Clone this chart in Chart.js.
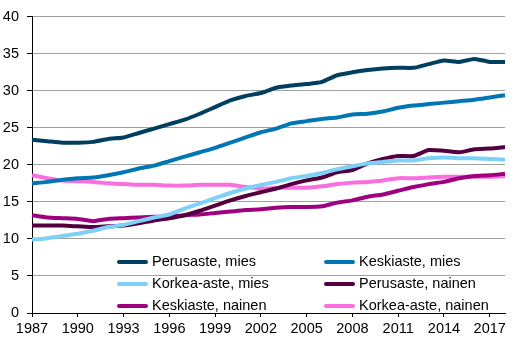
<!DOCTYPE html>
<html>
<head>
<meta charset="utf-8">
<script src="https://cdn.jsdelivr.net/npm/chart.js@4/dist/chart.umd.min.js"></script>
<style>
  html, body { margin: 0; padding: 0; background: #fff; }
  #wrap { width: 530px; height: 341px; position: relative; }
</style>
</head>
<body>
<div id="wrap"><canvas id="chart"></canvas></div>
<script>
// Datos
const years = [
  "1987","1988","1989","1990","1991","1992","1993","1994","1995","1996","1997",
  "1998","1999","2000","2001","2002","2003","2004","2005","2006","2007","2008",
  "2009","2010","2011","2012","2013","2014","2015","2016","2017","2018"
];
const shownYears = ["1987","1990","1993","1996","1999","2002","2005","2008","2011","2014","2017"];
const yTicks = [0, 5, 10, 15, 20, 25, 30, 35, 40];

const seriesNames = [
  "Perusaste, mies", "Keskiaste, mies", "Korkea-aste, mies",
  "Perusaste, nainen", "Keskiaste, nainen", "Korkea-aste, nainen"
];

const perusMies = [23.4,23.2,23.0,23.0,23.1,23.5,23.7,24.3,24.9,25.5,26.1,26.9,27.8,28.7,29.3,29.7,
                   30.4,30.7,30.9,31.2,32.1,32.5,32.8,33.0,33.1,33.1,33.6,34.1,33.9,34.3,33.9,33.9];
const keskiMies = [17.5,17.7,18.0,18.2,18.3,18.6,19.0,19.5,19.9,20.5,21.1,21.7,22.3,23.0,23.7,24.4,
                   24.9,25.6,25.9,26.2,26.4,26.8,26.9,27.2,27.7,28.0,28.2,28.4,28.6,28.8,29.1,29.4];
const korkeaMies = [9.9,10.1,10.4,10.7,11.1,11.6,11.9,12.4,12.9,13.3,14.1,14.8,15.5,16.2,16.8,17.3,
                    17.7,18.2,18.5,18.9,19.4,19.8,20.2,20.4,20.6,20.6,20.9,21.0,20.9,20.9,20.8,20.7];
const perusNainen = [11.8,11.8,11.8,11.7,11.6,11.7,11.8,12.1,12.5,12.8,13.2,13.8,14.5,15.2,15.8,16.3,
                     16.8,17.4,17.9,18.3,19.0,19.3,20.2,20.8,21.2,21.2,22.0,21.9,21.7,22.1,22.2,22.4];
const keskiNainen = [13.2,12.9,12.8,12.7,12.4,12.7,12.8,12.9,13.0,13.0,13.2,13.3,13.5,13.7,13.9,14.0,
                     14.2,14.3,14.3,14.4,14.9,15.2,15.7,16.0,16.5,17.0,17.4,17.7,18.2,18.5,18.6,18.8];
const korkeaNainen = [18.6,18.2,17.9,17.8,17.7,17.5,17.4,17.3,17.3,17.2,17.2,17.3,17.3,17.3,17.0,16.8,
                      16.9,16.9,16.9,17.1,17.4,17.6,17.7,17.9,18.2,18.2,18.3,18.4,18.4,18.4,18.4,18.5];

const colors = ["#003f5f", "#0077b3", "#7dd0f7", "#520040", "#9e007e", "#fa6ee0"];
const values = [perusMies, keskiMies, korkeaMies, perusNainen, keskiNainen, korkeaNainen];

const FONT = '"Liberation Sans", Arial, sans-serif';
const FONT_SIZE = 14.5;

// Leyenda dentro del área del gráfico (2 columnas)
const insideLegend = {
  id: "insideLegend",
  afterDraw(chart) {
    const ctx = chart.ctx;
    const cols = [118, 325];
    const rows = [262, 284, 306];
    ctx.save();
    ctx.font = FONT_SIZE + "px " + FONT;
    ctx.textBaseline = "middle";
    ctx.fillStyle = "#000";
    ctx.lineCap = "round";
    chart.data.datasets.forEach((ds, i) => {
      const x = cols[i % 2];
      const y = rows[Math.floor(i / 2)];
      ctx.strokeStyle = ds.borderColor;
      ctx.lineWidth = 4;
      ctx.beginPath();
      ctx.moveTo(x + 1, y);
      ctx.lineTo(x + 28, y);
      ctx.stroke();
      ctx.fillText(ds.label, x + 34, y);
    });
    ctx.restore();
  }
};

new Chart(document.getElementById("chart"), {
  type: "line",
  data: {
    labels: years,
    datasets: seriesNames.map((name, i) => ({
      label: name,
      data: values[i],
      borderColor: colors[i],
      backgroundColor: colors[i],
      borderWidth: 4,
      pointRadius: 0,
      tension: 0.2,
      fill: false
    }))
  },
  options: {
    responsive: true,
    maintainAspectRatio: false,
    animation: false,
    layout: { padding: { top: 9, right: 25, left: 0, bottom: 0 } },
    plugins: {
      legend: { display: false },
      tooltip: { enabled: false }
    },
    scales: {
      x: {
        offset: false,
        afterFit: (s) => { s.height = 28; },
        border: { color: "#000", width: 1 },
        grid: {
          drawOnChartArea: false,
          drawTicks: true,
          tickLength: 4,
          tickColor: "#000"
        },
        ticks: {
          autoSkip: false,
          maxRotation: 0,
          padding: 3,
          color: "#000",
          font: { family: FONT, size: FONT_SIZE },
          callback: function (v) {
            const lab = this.getLabelForValue(v);
            return shownYears.includes(lab) ? lab : null;
          }
        }
      },
      y: {
        min: yTicks[0],
        max: yTicks[yTicks.length - 1],
        afterFit: (s) => { s.width = 32; },
        border: { color: "#000", width: 1 },
        grid: {
          color: (c) => c.tick && c.tick.value === 0 ? "rgba(0,0,0,0)" : "#a0a0a0",
          lineWidth: 1,
          tickLength: 5,
          tickColor: "#000"
        },
        ticks: {
          stepSize: 5,
          padding: 8,
          color: "#000",
          font: { family: FONT, size: FONT_SIZE }
        }
      }
    }
  },
  plugins: [insideLegend]
});
</script>
</body>
</html>
